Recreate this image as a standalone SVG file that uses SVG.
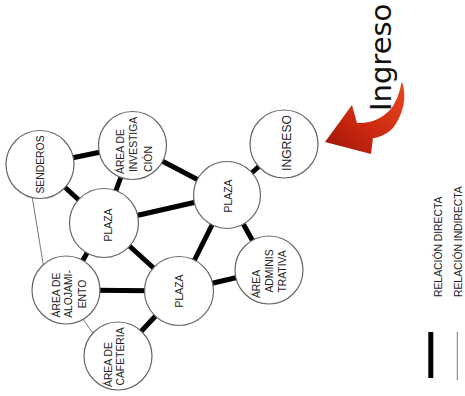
<svg xmlns="http://www.w3.org/2000/svg" width="465" height="396" viewBox="0 0 465 396">
<defs>
<linearGradient id="red" x1="1" y1="0" x2="0" y2="1">
<stop offset="0" stop-color="#e8461e"/>
<stop offset="0.6" stop-color="#c8260f"/>
<stop offset="1" stop-color="#9c1608"/>
</linearGradient>
</defs>
<style>
.n circle{fill:#fff;stroke:#666;stroke-width:1.2}
.t{font-family:"Liberation Sans",Arial,sans-serif;font-size:11.5px;fill:#222}
.thick{stroke:#000;stroke-width:5;fill:none}
.thin{stroke:#777;stroke-width:1;fill:none}
</style>
<rect width="465" height="396" fill="#fff"/>
<g id="connectors">
<line class="thick" x1="40" y1="164.5" x2="132.5" y2="145.5"/>
<line class="thick" x1="40" y1="164.5" x2="104" y2="223"/>
<line class="thick" x1="132.5" y1="145.5" x2="104" y2="223"/>
<line class="thick" x1="132.5" y1="145.5" x2="227" y2="195"/>
<line class="thick" x1="104" y1="223" x2="227" y2="195"/>
<line class="thick" x1="227" y1="195" x2="284" y2="144"/>
<line class="thick" x1="227" y1="195" x2="269" y2="270"/>
<line class="thick" x1="227" y1="195" x2="179" y2="291"/>
<line class="thick" x1="179" y1="291" x2="269" y2="270"/>
<line class="thick" x1="104" y1="223" x2="179" y2="291"/>
<line class="thick" x1="104" y1="223" x2="66" y2="290"/>
<line class="thick" x1="66" y1="290" x2="179" y2="291"/>
<line class="thick" x1="179" y1="291" x2="118" y2="356"/>
<line class="thin" x1="31" y1="190" x2="44.5" y2="272"/>
<line class="thin" x1="78" y1="312" x2="96" y2="337.5"/>
</g>
<g id="senderos" class="n">
<circle cx="40" cy="164.5" r="34"/>
<text class="t" text-anchor="middle" transform="translate(44,164.5) rotate(-90) scale(0.9,1)">SENDEROS</text>
</g>
<g id="investigacion" class="n">
<circle cx="132.5" cy="145.5" r="34"/>
<text class="t" text-anchor="start" transform="translate(124,174) rotate(-90) scale(0.9,1)">ÁREA DE</text>
<text class="t" text-anchor="start" transform="translate(137,172) rotate(-90) scale(0.9,1)">INVESTIGA</text>
<text class="t" text-anchor="start" transform="translate(151.5,172) rotate(-90) scale(0.9,1)">CIÓN</text>
</g>
<g id="plaza1" class="n">
<circle cx="104" cy="223" r="34.5"/>
<text class="t" text-anchor="middle" transform="translate(111.5,225) rotate(-90) scale(0.9,1)">PLAZA</text>
</g>
<g id="plaza2" class="n">
<circle cx="227" cy="195" r="33.5"/>
<text class="t" text-anchor="middle" transform="translate(231.5,196) rotate(-90) scale(0.9,1)">PLAZA</text>
</g>
<g id="plaza3" class="n">
<circle cx="179" cy="291" r="34.5"/>
<text class="t" text-anchor="middle" transform="translate(182.5,291) rotate(-90) scale(0.9,1)">PLAZA</text>
</g>
<g id="ingreso" class="n">
<circle cx="284" cy="144" r="34"/>
<text class="t" text-anchor="middle" style="font-size:13.5px" transform="translate(290.5,143) rotate(-90) scale(0.9,1)">INGRESO</text>
</g>
<g id="alojamiento" class="n">
<circle cx="66" cy="290" r="34"/>
<text class="t" text-anchor="middle" transform="translate(59.5,295) rotate(-90) scale(0.9,1)">ÁREA DE</text>
<text class="t" text-anchor="middle" transform="translate(72,294) rotate(-90) scale(0.9,1)">ALOJAMI-</text>
<text class="t" text-anchor="middle" transform="translate(85.5,294) rotate(-90) scale(0.9,1)">ENTO</text>
</g>
<g id="administrativa" class="n">
<circle cx="269" cy="270" r="34"/>
<text class="t" text-anchor="middle" transform="translate(260,284) rotate(-90) scale(0.9,1)">ÁREA</text>
<text class="t" text-anchor="middle" transform="translate(273.3,271) rotate(-90) scale(0.9,1)">ADMINIS</text>
<text class="t" text-anchor="middle" transform="translate(285.5,271.5) rotate(-90) scale(0.9,1)">TRATIVA</text>
</g>
<g id="cafeteria" class="n">
<circle cx="118" cy="356" r="34"/>
<text class="t" text-anchor="start" transform="translate(111.7,387) rotate(-90) scale(0.9,1)">ÁREA DE</text>
<text class="t" text-anchor="start" transform="translate(123.5,385.5) rotate(-90) scale(0.9,1)">CAFETERIA</text>
</g>
<g id="ingreso-label">
<text font-family="DejaVu Sans,Verdana,sans-serif" font-size="29" fill="#111" text-anchor="start" transform="translate(391,111) rotate(-90)">Ingreso</text>
<path fill="url(#red)" d="M401.7,81.7 C405,88 405,100 403,107 C400,118 395,128 387,133 C380,137 376,138 373,138 L371,154 L325,142 L352,105 L357,123 C370,124 385,118 393,106 C398,98 400,90 401.7,81.7 Z"/>
</g>
<g id="legend">
<line x1="430.8" y1="332" x2="430.8" y2="378" stroke="#000" stroke-width="5"/>
<line x1="457.3" y1="332" x2="457.3" y2="380" stroke="#777" stroke-width="1"/>
<text class="t" text-anchor="start" transform="translate(441.5,297) rotate(-90) scale(0.9,1)">RELACIÓN DIRECTA</text>
<text class="t" text-anchor="start" transform="translate(461.5,297) rotate(-90) scale(0.9,1)">RELACIÓN INDIRECTA</text>
</g>
</svg>
